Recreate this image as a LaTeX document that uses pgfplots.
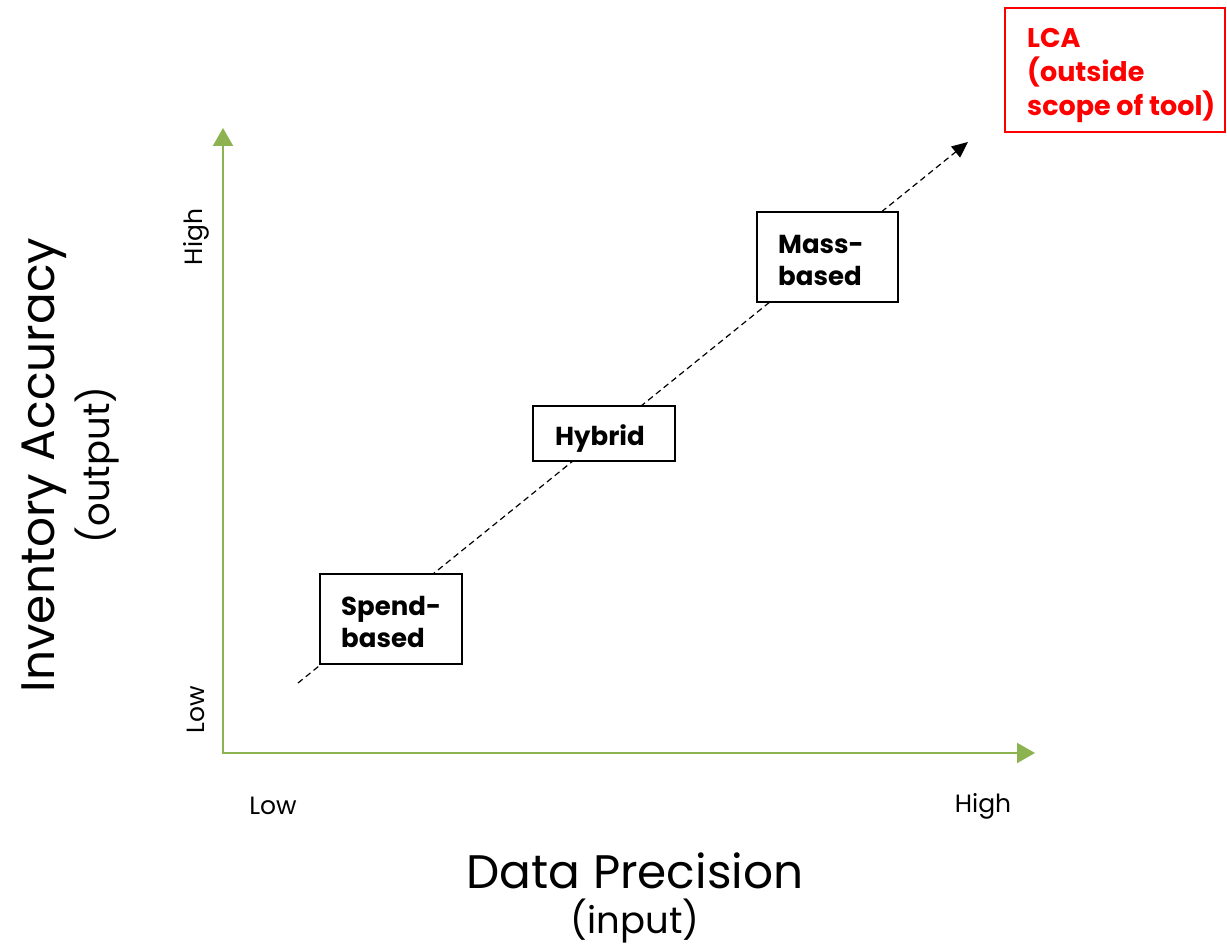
\documentclass[border=0pt]{standalone}
\usepackage{pgfplots}
\pgfplotsset{compat=1.18}
\usepackage{fontspec}
\setmainfont{Poppins}
\usetikzlibrary{arrows.meta}
\definecolor{axgreen}{RGB}{141,179,80}
\begin{document}
\begin{tikzpicture}
\begin{axis}[at={(0,0)},anchor=south west, scale only axis, width=1227pt, height=946pt,
  xmin=0,xmax=1227,ymin=0,ymax=946, hide axis, clip=false]
% green axes
\addplot[axgreen, line width=2pt, -{Triangle[length=18pt,width=20pt]}] coordinates {(223,192) (223,818)};
\addplot[axgreen, line width=2pt, -{Triangle[length=18pt,width=20pt]}] coordinates {(222,193) (1035,193)};
% dashed diagonal
\addplot[black, line width=1.2pt, dash pattern=on 6pt off 4pt, -{Triangle[length=16pt,width=14pt]}] coordinates {(298,263) (968,804)};
% boxes
\addplot[black, line width=1.4pt, fill=white] coordinates {(320,282) (462,282) (462,372) (320,372)} -- cycle;
\addplot[black, line width=1.4pt, fill=white] coordinates {(533,485) (675,485) (675,540) (533,540)} -- cycle;
\addplot[black, line width=1.4pt, fill=white] coordinates {(757,644) (898,644) (898,734) (757,734)} -- cycle;
\addplot[red, line width=1.4pt, fill=white] coordinates {(1005,814) (1225,814) (1225,938) (1005,938)} -- cycle;
% box texts
\node[anchor=west, align=left, inner sep=0pt, font=\fontsize{26}{32}\selectfont\bfseries] at (axis cs:341,324) {Spend-\\based};
\node[anchor=west, align=left, inner sep=0pt, font=\fontsize{26}{32}\selectfont\bfseries] at (axis cs:555,507) {Hybrid};
\node[anchor=west, align=left, inner sep=0pt, font=\fontsize{26}{32}\selectfont\bfseries] at (axis cs:778,686) {Mass-\\based};
\node[anchor=west, align=left, inner sep=0pt, text=red, font=\fontsize{27}{34}\selectfont\bfseries] at (axis cs:1027,870) {LCA\\(outside\\scope of tool)};
% axis tick labels
\node[rotate=90, inner sep=0pt, font=\fontsize{25}{30}\selectfont] at (axis cs:196,709) {High};
\node[rotate=90, inner sep=0pt, font=\fontsize{25}{30}\selectfont] at (axis cs:196,236) {Low};
\node[inner sep=0pt, font=\fontsize{25}{30}\selectfont] at (axis cs:273,140) {Low};
\node[inner sep=0pt, font=\fontsize{25}{30}\selectfont] at (axis cs:983,140) {High};
% axis titles
\node[rotate=90, inner sep=0pt, font=\fontsize{47}{52}\selectfont] at (axis cs:44,481) {Inventory Accuracy};
\node[rotate=90, inner sep=0pt, font=\fontsize{37}{42}\selectfont] at (axis cs:97,481) {(output)};
\node[inner sep=0pt, font=\fontsize{47}{52}\selectfont] at (axis cs:635,75) {Data Precision};
\node[inner sep=0pt, font=\fontsize{37}{42}\selectfont] at (axis cs:635,25) {(input)};
\end{axis}
\pgfresetboundingbox
\path (0,0) rectangle (1227pt,946pt);
\end{tikzpicture}
\end{document}
